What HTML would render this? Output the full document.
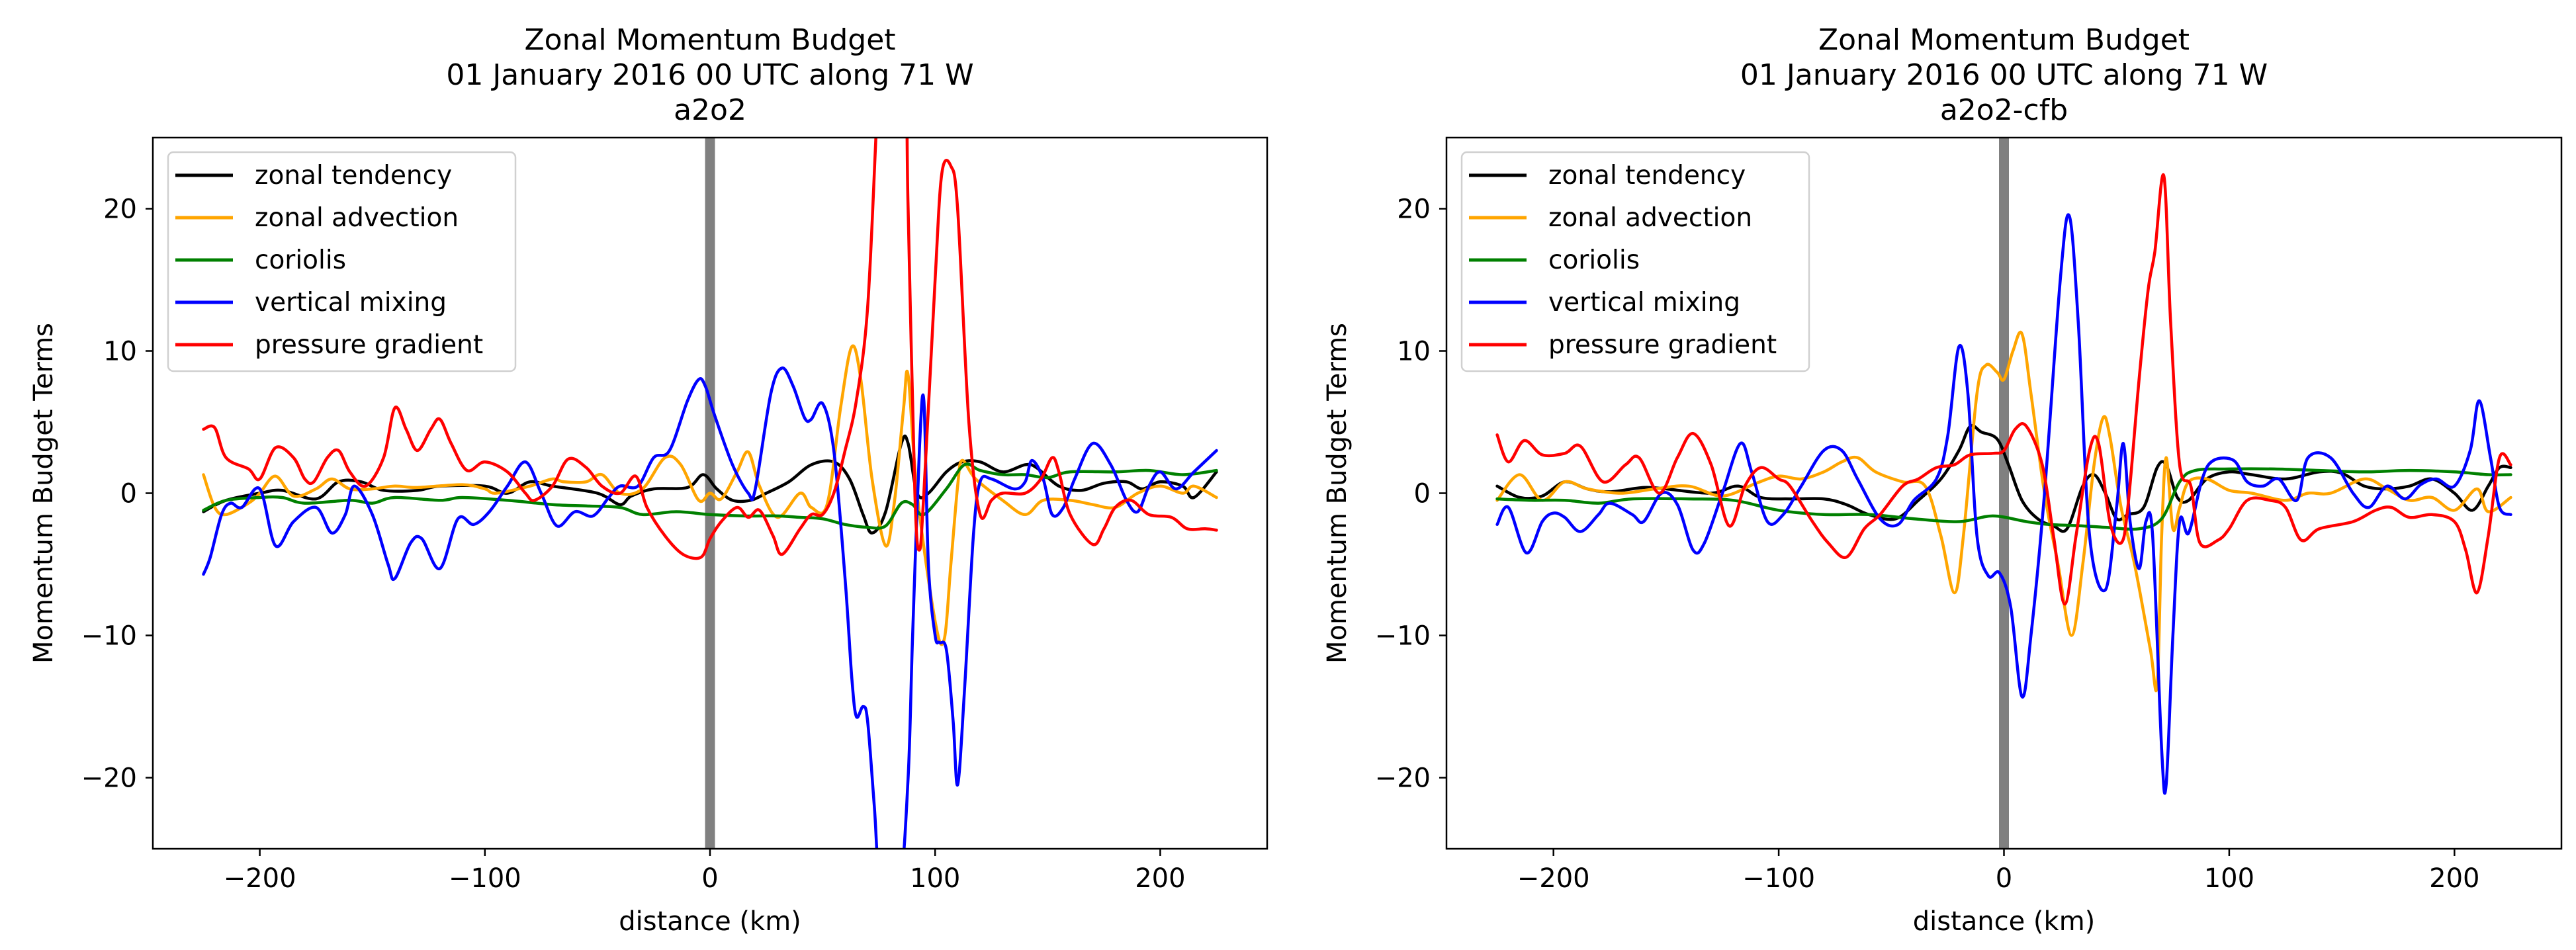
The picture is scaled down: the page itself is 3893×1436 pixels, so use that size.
<!DOCTYPE html>
<html><head><meta charset="utf-8"><style>
html,body{margin:0;padding:0;background:#fff;overflow:hidden;}
svg{display:block;font-family:"DejaVu Sans","Liberation Sans",sans-serif;}
</style></head><body>
<svg id="fig" width="3893" height="1436" viewBox="0 0 3893 1436" xmlns="http://www.w3.org/2000/svg"></svg>
<script>
// ---------- data ----------
const xTicks = [-200,-100,0,100,200];
const yTicks = [-20,-10,0,10,20];
const seriesNames = ["zonal tendency","zonal advection","coriolis","vertical mixing","pressure gradient"];
const seriesColors = ["#000000","#ffa500","#008000","#0000ff","#ff0000"];

// Panel A (a2o2): [km, value]
const a_tend = [[-225,-1.3],[-215,-0.5],[-200,0],[-190,0.2],[-175,-0.4],[-165,0.8],[-155,0.8],[-145,0.2],[-130,0.2],[-120,0.5],[-100,0.5],[-90,0],[-80,0.8],[-70,0.5],[-50,0],[-40,-0.8],[-35,-0.2],[-25,0.3],[-10,0.4],[-3,1.3],[3,0.3],[10,-0.5],[18,-0.5],[25,0],[35,0.8],[45,2],[55,2.2],[62,1],[68,-1.5],[72,-2.8],[78,-1.3],[85,3.5],[88,3.5],[92,0],[97,0],[105,1.5],[112,2.2],[120,2.2],[130,1.5],[140,2],[145,1.8],[155,0.5],[165,0.2],[175,0.7],[185,0.8],[192,0.3],[200,0.8],[210,0.5],[215,-0.3],[225,1.5]];
const a_adv = [[-225,1.3],[-220,-1],[-215,-1.5],[-205,-0.7],[-200,0],[-193,1.2],[-185,-0.2],[-175,0.3],[-168,1],[-160,0.3],[-150,0.3],[-140,0.5],[-130,0.4],[-110,0.6],[-100,0.3],[-95,0],[-80,0.5],[-70,1],[-65,0.8],[-55,0.8],[-48,1.3],[-40,0],[-30,0.3],[-20,2.5],[-13,2],[-5,-0.5],[0,0],[5,-0.4],[12,1.5],[17,2.9],[22,0.5],[30,-1.7],[40,0],[45,-1],[52,-0.8],[58,6],[63,10.3],[67,8],[72,1],[78,-3.7],[82,-0.5],[86,6],[88,8.3],[92,0],[100,-9],[104,-10.3],[107,-5],[110,0.5],[112,2.3],[118,1],[130,-0.5],[140,-1.5],[148,-0.5],[160,-0.5],[170,-0.8],[180,-1],[190,0],[200,0.5],[210,0],[215,0.5],[225,-0.3]];
const a_cor = [[-225,-1.2],[-215,-0.5],[-200,-0.3],[-190,-0.3],[-180,-0.7],[-160,-0.5],[-150,-0.7],[-140,-0.3],[-120,-0.5],[-110,-0.3],[-90,-0.5],[-70,-0.8],[-55,-0.9],[-40,-1],[-30,-1.5],[-15,-1.3],[0,-1.5],[15,-1.6],[30,-1.6],[40,-1.7],[50,-1.8],[60,-2.2],[70,-2.4],[78,-2.3],[85,-0.7],[90,-0.8],[95,-1.5],[105,0.3],[113,2],[120,1.6],[130,1.3],[140,1.3],[150,1.1],[160,1.5],[180,1.5],[195,1.6],[210,1.3],[225,1.6]];
const a_mix = [[-225,-5.7],[-222,-4.5],[-217,-1.5],[-213,-0.7],[-208,-1],[-200,0.3],[-193,-3.7],[-185,-2],[-175,-1],[-168,-2.8],[-162,-1.5],[-158,0.5],[-150,-1.5],[-143,-5],[-140,-6],[-133,-3.5],[-128,-3.2],[-120,-5.3],[-112,-1.8],[-105,-2.2],[-98,-1.3],[-90,0.5],[-82,2.2],[-75,0],[-68,-2.3],[-60,-1.3],[-52,-1.6],[-45,-0.3],[-40,0.5],[-32,0.5],[-25,2.5],[-18,3],[-10,6.5],[-5,8],[-2,7.5],[2,5.5],[10,2],[17,0],[20,0.2],[27,7],[32,8.8],[37,7.5],[42,5.3],[45,5.2],[50,6.3],[55,3],[60,-6],[63,-13],[65,-15.7],[68,-15],[70,-16],[73,-22],[76,-28],[84,-28],[88,-20],[90,-10],[93,3],[95,6.5],[97,-5],[100,-10],[102,-10.5],[105,-11],[108,-16],[110,-20.5],[113,-14],[117,-3],[120,0.8],[125,1],[135,0.3],[140,0.8],[143,2.3],[148,1],[152,-1.5],[157,-1],[162,1],[170,3.5],[178,2],[185,-0.5],[190,-1.3],[195,0.5],[200,1.5],[207,0.3],[215,1.5],[225,3]];
const a_pg = [[-225,4.5],[-220,4.6],[-215,2.5],[-205,1.7],[-200,1],[-193,3.2],[-185,2.5],[-180,1],[-176,0.8],[-170,2.5],[-165,3],[-160,1.5],[-153,0.5],[-145,2.5],[-140,6],[-135,4.5],[-130,3],[-124,4.5],[-120,5.2],[-115,3.5],[-108,1.6],[-100,2.2],[-90,1.5],[-82,0],[-78,-0.5],[-70,0.5],[-63,2.4],[-55,1.8],[-48,0.5],[-40,0],[-33,1.2],[-28,-1],[-20,-3],[-12,-4.3],[-4,-4.5],[0,-3.2],[5,-2],[12,-1],[17,-1.7],[22,-1.2],[28,-3],[32,-4.3],[40,-2.5],[45,-1.5],[50,-1.5],[55,0],[60,3],[65,6.5],[70,13],[74,26],[76,32],[86,32],[88,20],[91,0],[93,-4],[95,0],[100,15],[103,22.5],[107,23],[110,20],[115,5],[120,-1.5],[125,-0.5],[130,0],[140,0],[147,1],[152,2.5],[155,1.5],[160,-1.5],[170,-3.6],[175,-2.5],[180,-1],[187,-0.5],[195,-1.5],[205,-1.7],[212,-2.5],[220,-2.5],[225,-2.6]];

// Panel B (a2o2-cfb)
const b_tend = [[-225,0.5],[-215,-0.3],[-205,-0.2],[-195,0.8],[-185,0.3],[-175,0.1],[-160,0.4],[-150,0.3],[-130,0],[-118,0.5],[-108,-0.3],[-95,-0.4],[-80,-0.4],[-70,-0.8],[-60,-1.5],[-48,-1.8],[-38,-0.5],[-28,1],[-20,3],[-15,4.7],[-10,4.3],[-3,3.8],[2,2],[8,-0.5],[15,-1.8],[22,-2.3],[28,-2.5],[35,0.5],[40,1.3],[45,0],[50,-1.8],[55,-1.5],[62,-1],[68,1.8],[72,2],[77,-0.3],[82,-0.5],[90,1],[100,1.5],[110,1.3],[125,1],[140,1.5],[150,1.4],[160,0.5],[170,0.3],[180,0.5],[190,1],[200,0],[208,-1.2],[215,0.5],[220,1.8],[225,1.8]];
const b_adv = [[-225,-0.5],[-215,1.3],[-205,-0.5],[-195,0.8],[-185,0.3],[-170,0],[-155,0.3],[-140,0.5],[-125,-0.2],[-110,0.7],[-100,1.2],[-90,1],[-80,1.5],[-72,2.2],[-65,2.5],[-57,1.5],[-45,0.8],[-35,0.5],[-28,-3],[-22,-7],[-18,-3],[-12,7],[-8,9],[-3,8.5],[0,8],[4,10],[8,11.2],[12,7],[18,0],[24,-5],[30,-10],[35,-5],[40,2],[44,5.3],[47,4],[52,-1],[58,-5],[65,-11],[68,-13.5],[70,-3],[72,2.5],[75,-2.5],[78,-1],[82,0.8],[90,1],[100,0.2],[110,0],[125,-0.5],[135,0],[145,0],[160,1],[170,0.3],[180,-0.5],[190,-0.3],[200,-1.2],[210,0.3],[215,-1.3],[225,-0.3]];
const b_cor = [[-225,-0.4],[-210,-0.5],[-195,-0.5],[-180,-0.7],[-165,-0.4],[-140,-0.4],[-120,-0.5],[-100,-1.2],[-80,-1.5],[-60,-1.5],[-40,-1.8],[-20,-2],[-5,-1.6],[10,-2],[20,-2.2],[35,-2.3],[45,-2.4],[60,-2.5],[70,-1.8],[78,0.8],[85,1.6],[100,1.7],[120,1.7],[140,1.6],[160,1.5],[180,1.6],[200,1.5],[215,1.3],[225,1.3]];
const b_mix = [[-225,-2.2],[-220,-1],[-212,-4.2],[-205,-2],[-200,-1.4],[-195,-1.7],[-188,-2.7],[-180,-1.5],[-175,-0.7],[-165,-1.5],[-160,-2],[-152,0],[-145,-0.8],[-138,-4],[-133,-3.5],[-125,0],[-117,3.5],[-112,1.5],[-105,-2],[-98,-1.5],[-90,0.5],[-80,3],[-72,3],[-65,1],[-55,-1.8],[-47,-2.2],[-40,-0.5],[-30,1],[-25,4],[-20,10.3],[-16,7],[-12,-3],[-7,-5.8],[-2,-5.6],[3,-8],[8,-14.3],[12,-10],[18,0],[25,15],[29,19.5],[33,12],[38,-3],[45,-6.8],[50,-1],[53,3.5],[56,-2],[60,-5.3],[63,-2],[66,-3],[70,-18],[72,-20.5],[75,-10],[78,-2],[82,-2.8],[88,1],[93,2.3],[102,2.3],[108,0.8],[115,0.5],[122,1],[130,-0.5],[135,2.5],[145,2.5],[155,0],[162,-1],[170,0.5],[178,-0.4],[185,0.6],[192,1],[200,0.5],[207,3],[211,6.5],[216,2.5],[220,-1],[225,-1.5]];
const b_pg = [[-225,4.1],[-220,2.2],[-213,3.7],[-205,2.7],[-195,2.8],[-188,3.3],[-178,0.8],[-168,2],[-162,2.5],[-153,0],[-145,2.5],[-138,4.2],[-130,2],[-122,-2.3],[-115,0.5],[-108,1.8],[-100,1],[-95,0.5],[-85,-2],[-78,-3.5],[-70,-4.5],[-62,-2.5],[-55,-1.5],[-45,0.5],[-38,1],[-30,1.8],[-22,2],[-15,2.7],[-5,2.8],[0,3],[5,4.5],[10,4.7],[17,2],[22,-3],[27,-7.8],[32,-3],[38,3],[42,3.5],[47,-2],[52,-3.5],[55,-1],[60,8],[64,14.3],[67,17],[71,22.3],[74,12],[78,2],[83,0.5],[87,-3.5],[95,-3.3],[100,-2.5],[108,-0.5],[118,-0.5],[125,-1],[132,-3.3],[140,-2.5],[155,-2],[165,-1.2],[172,-1],[180,-1.7],[190,-1.5],[200,-2],[205,-4],[210,-7],[215,-3],[220,2.5],[225,2]];

const panelA = [a_tend,a_adv,a_cor,a_mix,a_pg];
const panelB = [b_tend,b_adv,b_cor,b_mix,b_pg];
const titlesA = ["Zonal Momentum Budget","01 January 2016 00 UTC along 71 W","a2o2"];
const titlesB = ["Zonal Momentum Budget","01 January 2016 00 UTC along 71 W","a2o2-cfb"];

// ---------- drawing ----------
const NS="http://www.w3.org/2000/svg";
const svg=document.getElementById('fig');
function mk(tag,attrs,parent){const e=document.createElementNS(NS,tag);for(const k in attrs)e.setAttribute(k,attrs[k]);(parent||svg).appendChild(e);return e;}

function smoothPath(pts){
  let d="M"+pts[0][0].toFixed(1)+","+pts[0][1].toFixed(1);
  for(let i=0;i<pts.length-1;i++){
    const p0=pts[Math.max(0,i-1)],p1=pts[i],p2=pts[i+1],p3=pts[Math.min(pts.length-1,i+2)];
    const c1=[p1[0]+(p2[0]-p0[0])/6,p1[1]+(p2[1]-p0[1])/6];
    const c2=[p2[0]-(p3[0]-p1[0])/6,p2[1]-(p3[1]-p1[1])/6];
    d+="C"+c1[0].toFixed(1)+","+c1[1].toFixed(1)+" "+c2[0].toFixed(1)+","+c2[1].toFixed(1)+" "+p2[0].toFixed(1)+","+p2[1].toFixed(1);
  }
  return d;
}

function drawPanel(id,L,R,series,titles){
  const T=208,B=1283;
  const xmin=-247.5,xmax=247.5,ymin=-25,ymax=25;
  const sx=v=>L+(v-xmin)/(xmax-xmin)*(R-L);
  const sy=v=>B-(v-ymin)/(ymax-ymin)*(B-T);
  const g=mk('g',{});
  
  
  const cx=(L+R)/2;
  titles.forEach((t,i)=>{
    const e=mk('text',{x:cx,y:75+i*53,'text-anchor':'middle','font-size':44,fill:'#000'},g);
    e.textContent=t;
    
    
  });
  const clip=mk('clipPath',{id:'clip-'+id},g);
  mk('rect',{x:L,y:T,width:R-L,height:B-T},clip);
  const vl=mk('line',{x1:sx(0),x2:sx(0),y1:T,y2:B,stroke:'#808080','stroke-width':15},g);
  
  
  const lines=mk('g',{'clip-path':'url(#clip-'+id+')'},g);
  series.forEach((s,k)=>{
    const pts=s.map(p=>[sx(p[0]),sy(p[1])]);
    const p=mk('path',{d:smoothPath(pts),fill:'none',stroke:seriesColors[k],'stroke-width':4.5,'stroke-linejoin':'round','stroke-linecap':'round'},lines);
    
    
  });
  const fr=mk('rect',{x:L,y:T,width:R-L,height:B-T,fill:'none',stroke:'#000','stroke-width':2.5},g);
  
  
  xTicks.forEach(v=>{
    mk('line',{x1:sx(v),x2:sx(v),y1:B,y2:B+11,stroke:'#000','stroke-width':2.5},g);
    const t=mk('text',{x:sx(v),y:B+58,'text-anchor':'middle','font-size':40,fill:'#000'},g);
    t.textContent=v<0?'\u2212'+(-v):String(v);
    
    
  });
  yTicks.forEach(v=>{
    mk('line',{x1:L-11,x2:L,y1:sy(v),y2:sy(v),stroke:'#000','stroke-width':2.5},g);
    const t=mk('text',{x:L-24,y:sy(v)+14,'text-anchor':'end','font-size':40,fill:'#000'},g);
    t.textContent=v<0?'\u2212'+(-v):String(v);
    
    
  });
  const xl=mk('text',{x:cx,y:1406,'text-anchor':'middle','font-size':40,fill:'#000'},g);
  xl.textContent='distance (km)';
  
  
  const yl=mk('text',{x:0,y:0,'text-anchor':'middle','font-size':40,fill:'#000',transform:'translate('+(L-152)+','+((T+B)/2)+') rotate(-90)'},g);
  yl.textContent='Momentum Budget Terms';
  
  
  const lg=mk('g',{},g);
  
  
  mk('rect',{x:L+23,y:T+22,width:525,height:331,rx:8,fill:'#fff','fill-opacity':0.8,stroke:'#d0d0d0','stroke-width':2.5},lg);
  seriesNames.forEach((n,k)=>{
    const y=T+57+k*64;
    mk('line',{x1:L+34,x2:L+121,y1:y,y2:y,stroke:seriesColors[k],'stroke-width':5},lg);
    const t=mk('text',{x:L+154,y:y+13,'font-size':39,fill:'#000'},lg);
    t.textContent=n;
    
    
  });
}
drawPanel('a2o2',231,1915,panelA,titlesA);
drawPanel('a2o2-cfb',2186,3871,panelB,titlesB);
</script>
</body></html>
